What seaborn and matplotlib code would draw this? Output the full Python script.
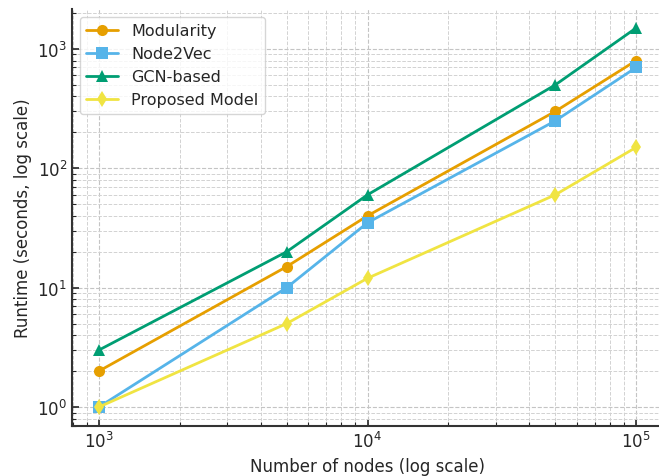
import matplotlib
matplotlib.use("Agg")
import matplotlib.pyplot as plt
import seaborn as sns
import pandas as pd

nodes = [1000, 5000, 10000, 50000, 100000]
modularity = [2, 15, 40, 300, 800]
node2vec = [1, 10, 35, 250, 700]
gcn_based = [3, 20, 60, 500, 1500]
proposed = [1, 5, 12, 60, 150]
methods = ["Modularity", "Node2Vec", "GCN-based", "Proposed Model"]
colors = ["#E69F00", "#56B4E9", "#009E73", "#F0E442"]
markers = ["o", "s", "^", "d"]

rows = []
for m, vals in zip(methods, [modularity, node2vec, gcn_based, proposed]):
    for n, v in zip(nodes, vals):
        rows.append({"Nodes": n, "Runtime": v, "Method": m})
df = pd.DataFrame(rows)

sns.set_theme(style="ticks")
plt.rcParams['font.family'] = ['DejaVu Sans']

fig = plt.figure(figsize=(6.59, 4.77), dpi=100)
ax = fig.add_axes([72/659, 1-427/477, 591/659, 417/477])

sns.lineplot(data=df, x="Nodes", y="Runtime", hue="Method", style="Method",
             hue_order=methods, style_order=methods,
             palette=dict(zip(methods, colors)),
             markers=dict(zip(methods, markers)), dashes=False,
             linewidth=2, markersize=8, markeredgewidth=0, ax=ax)

ax.set_xscale("log")
ax.set_yscale("log")
ax.set_xlabel("Number of nodes (log scale)", fontsize=12)
ax.set_ylabel("Runtime (seconds, log scale)", fontsize=12)
ax.tick_params(axis="both", which="both", direction="in", labelsize=12)
ax.tick_params(which="major", length=5, width=1.2)
ax.tick_params(which="minor", length=3, width=0.8)
ax.grid(True, which="major", linestyle="--", color="#c4c4c4", linewidth=0.8)
ax.grid(True, which="minor", linestyle="--", color="#d2d2d2", linewidth=0.7)
ax.spines["top"].set_visible(False)
ax.spines["right"].set_visible(False)
for s in ["left", "bottom"]:
    ax.spines[s].set_linewidth(1.5)
    ax.spines[s].set_color("#333333")

leg = ax.legend(loc="upper left", fontsize=11.5, frameon=True)
leg.set_title(None)

fig.savefig("out.png", dpi=100)
